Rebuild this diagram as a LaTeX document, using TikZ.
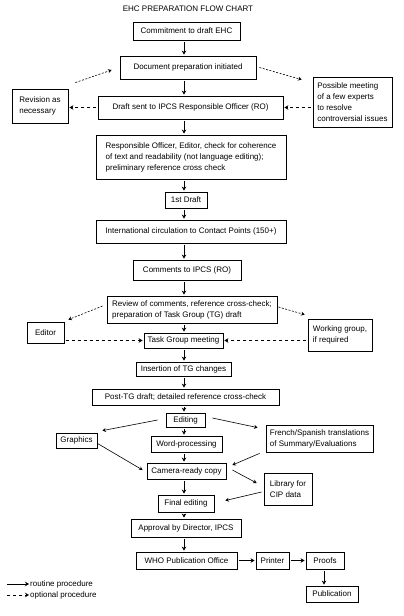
\documentclass[tikz,border=0pt]{standalone}
\usepackage{fontspec}
\setmainfont{Liberation Sans}
\usetikzlibrary{arrows.meta,calc}
\begin{document}
\begin{tikzpicture}[x=1pt,y=-1pt,
  txt/.style={font=\fontsize{8}{11}\selectfont, inner sep=0pt},
  bx/.style 2 args={draw, line width=0.8pt, minimum width=#1pt, minimum height=#2pt, inner sep=0pt, font=\fontsize{8}{11}\selectfont, align=center},
  lft/.style={align=left},
  arr/.style={line width=0.8pt, -{Stealth[length=4pt,width=4.5pt]}, shorten <=1.5pt, shorten >=1pt},
  opt/.style={arr, dash pattern=on 3pt off 3pt},
  dot/.style={line width=0.6pt, -{Stealth[length=3.5pt,width=4pt]}, dash pattern=on 2pt off 1.5pt},
  thin/.style={line width=0.6pt, -{Stealth[length=3.5pt,width=4pt]}}
]
\useasboundingbox (0,0) rectangle (404,616);
\coordinate (ax) at (184,0);

\node[txt] (title) at (188,9) {EHC PREPARATION FLOW CHART};

\node[bx={107}{18}] (commit) at (186.5,31) {Commitment to draft EHC};
\node[bx={136}{23}] (docprep) at (188,67.5) {Document preparation initiated};
\node[bx={185}{23}] (draft) at (190.5,107.5) {Draft sent to IPCS Responsible Officer (RO)};
\node[bx={56}{34}, lft] (revision) at (40,106) {Revision as\\necessary};
\node[bx={79}{50}, lft] (possible) at (352.5,102) {Possible meeting\\of a few experts\\to resolve\\controversial issues};
\node[bx={190}{44}, lft] (rocheck) at (191,157) {Responsible Officer, Editor, check for coherence\\of text and readability (not language editing);\\preliminary reference cross check};
\node[bx={42}{16}] (first) at (186,200) {1st Draft};
\node[bx={190}{23}] (intl) at (191,231.5) {International circulation to Contact Points (150+)};
\node[bx={108}{20}] (comments) at (187,270) {Comments to IPCS (RO)};
\node[bx={170}{27}, lft] (review) at (192,309.5) {Review of comments, reference cross-check;\\preparation of Task Group (TG) draft};
\node[bx={37}{21}] (editor) at (45.5,332.5) {Editor};
\node[bx={79}{15}] (tgm) at (183.5,340.5) {Task Group meeting};
\node[bx={64}{32}, lft] (working) at (340,335) {Working group,\\if required};
\node[bx={95}{14}] (insertion) at (183.5,369) {Insertion of TG changes};
\node[bx={187}{16}] (posttg) at (185.5,397) {Post-TG draft; detailed reference cross-check};
\node[bx={39}{14}] (editing) at (185.5,420) {Editing};
\node[bx={41}{15}] (graphics) at (76.5,440.5) {Graphics};
\node[bx={71}{16}] (wordproc) at (186.5,444) {Word-processing};
\node[bx={107}{27}, lft] (french) at (319.5,438.5) {French/Spanish translations\\of Summary/Evaluations};
\node[bx={79}{16}] (camera) at (186.5,471) {Camera-ready copy};
\node[bx={48}{32}, lft] (library) at (288,489) {Library for\\CIP data};
\node[bx={56}{17}] (final) at (186,503.5) {Final editing};
\node[bx={110}{18}] (approval) at (186,528) {Approval by Director, IPCS};
\node[bx={101}{17}] (who) at (186.5,560.5) {WHO Publication Office};
\node[bx={33}{17}] (printer) at (272.5,560.5) {Printer};
\node[bx={38}{17}] (proofs) at (325,560.5) {Proofs};
\node[bx={52}{16}] (publication) at (332,594) {Publication};

% main column
\draw[arr] (commit.south -| ax) -- (docprep.north -| ax);
\draw[arr] (docprep.south -| ax) -- (draft.north -| ax);
\draw[arr] (draft.south -| ax) -- (rocheck.north -| ax);
\draw[arr] (rocheck.south -| ax) -- (first.north -| ax);
\draw[arr] (first.south -| ax) -- (intl.north -| ax);
\draw[arr] (intl.south -| ax) -- (comments.north -| ax);
\draw[arr] (comments.south -| ax) -- (review.north -| ax);
\draw[arr] (review.south -| ax) -- (tgm.north -| ax);
\draw[arr] (tgm.south -| ax) -- (insertion.north -| ax);
\draw[arr] (insertion.south -| ax) -- (posttg.north -| ax);
\draw[arr] (posttg.south -| ax) -- (editing.north -| ax);
\draw[arr] (editing.south -| ax) -- (wordproc.north -| ax);
\draw[arr] (wordproc.south -| ax) -- (camera.north -| ax);
\draw[arr] (camera.south -| ax) -- (final.north -| ax);
\draw[arr] (final.south -| ax) -- (approval.north -| ax);
\draw[arr] (approval.south -| ax) -- (who.north -| ax);
\draw[arr] (who.east) -- (printer.west);
\draw[arr] (printer.east) -- (proofs.west);
\draw[arr] ([xshift=-1pt]proofs.south) -- ([xshift=-1pt]proofs.south |- publication.north);

% optional
\draw[opt] (draft.west) -- (draft.west -| revision.east);
\draw[opt] (possible.west |- draft) -- (draft.east);
\draw[opt] (editor.east |- tgm) -- (tgm.west);
\draw[opt] (working.west |- tgm) -- (tgm.east);
\draw[dot] ([shift={(7,-6)}]revision.north east) -- ([shift={(-8,2.5)}]docprep.west);
\draw[dot] ([shift={(3,0)}]docprep.east) -- ([shift={(-11,3)}]possible.north west);
\draw[dot] ([shift={(-4,-3.5)}]review.west) -- ([shift={(4,-2)}]editor.north east);
\draw[dot] ([shift={(1,-2.5)}]review.east) -- ([shift={(-3,-4)}]working.north west);

% editing stage
\draw[thin] ([xshift=-8]editing.west) -- ([shift={(5,-2)}]graphics.north east);
\draw[thin] ([shift={(7,-2)}]editing.east) -- ([shift={(-8,3)}]french.north west);
\draw[thin] ([yshift=5]graphics.south east) -- ([shift={(-4,-1)}]camera.west);
\draw[thin] ([shift={(-6,1)}]french.south west) -- ([shift={(6,-6)}]camera.east);
\draw[thin] ([shift={(6,-1)}]camera.east) -- ([shift={(-7,-6)}]library.west);
\draw[thin] ([shift={(-2,3)}]library.west) -- ([shift={(11,-3)}]final.east);

% legend
\node[txt, anchor=west] (leg1) at (30,584) {routine procedure};
\node[txt, anchor=west] (leg2) at (30,595) {optional procedure};
\coordinate (l1) at (7,584);
\coordinate (l2) at (7,595);
\draw[arr, shorten <=0pt] (l1) -- (leg1.west);
\draw[opt, shorten <=0pt] (l2) -- (leg2.west);
\end{tikzpicture}
\end{document}
